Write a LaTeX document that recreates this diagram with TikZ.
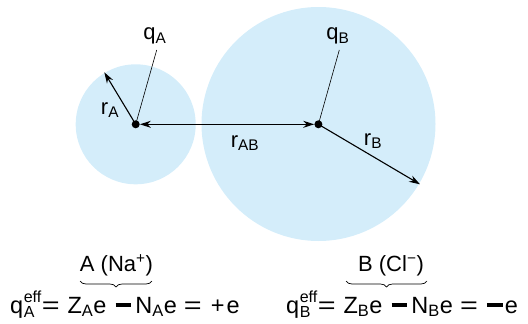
\documentclass[tikz,border=0pt]{standalone}
\usepackage{fontspec}
\usepackage{graphicx}
\setmainfont{Liberation Sans}
\usetikzlibrary{arrows.meta,decorations.pathreplacing}
\definecolor{ionblue}{RGB}{212,237,250}
\newcommand{\effq}[1]{q\kern0.5pt\raisebox{-4.5pt}{\fontsize{16}{12.5}\selectfont\begin{tabular}[b]{@{}l@{}}eff\\#1\end{tabular}}}
\newcommand{\bmin}{\rule[0.27em]{0.68em}{0.14em}}
\newcommand{\weq}{\scalebox{1.3}[1]{=}}
\begin{document}
\begin{tikzpicture}[x=1pt,y=-1pt,
  ion/.style={circle,fill=ionblue,inner sep=0,minimum size=#1},
  dotn/.style={circle,fill=black,inner sep=0,minimum size=8pt},
  lbl/.style={font=\fontsize{22}{24}\selectfont,inner sep=0},
  eqn/.style={font=\fontsize{23.5}{26}\selectfont,inner sep=0,anchor=base},
  lab/.style={font=\fontsize{22}{24}\selectfont,inner sep=0,anchor=base},
  arr/.style={line width=1.1pt,-{Stealth[length=11pt,width=7pt]}},
  leader/.style={line width=0.6pt},
  brc/.style={line width=0.7pt,decorate,decoration={brace,amplitude=6pt}}
]
\useasboundingbox (0,0) rectangle (528,324);
\node[ion=120pt] (cA) at (135.7,124.3) {};
\node[ion=234pt] (cB) at (318.5,124) {};
\node[dotn] (A) at (135.7,124.3) {};
\node[dotn] (B) at (318.4,124.3) {};
\coordinate (rAend) at (104.3,72.3);
\coordinate (rBend) at (420,184.3);
\coordinate (qAend) at (156.7,50);
\coordinate (qBend) at (339.3,50);
\draw[arr] (A.center) -- (rAend);
\draw[arr] (B.center) -- (rBend);
\draw[leader] (A.center) -- (qAend);
\draw[leader] (B.center) -- (qBend);
\draw[line width=1.1pt,{Stealth[length=11pt,width=7pt]}-{Stealth[length=11pt,width=7pt]}] (A) -- (B);
\node[lbl] (qA) at (155,36) {q\textsubscript{A}};
\node[lbl] (qB) at (338,36) {q\textsubscript{B}};
\node[lbl] (rA) at (110,110) {r\textsubscript{A}};
\node[lbl] (rB) at (373,141) {r\textsubscript{B}};
\node[lbl] (rAB) at (245,143) {r\textsubscript{AB}};
\node[eqn,anchor=base west] (eqA) at (10,313) {\effq{A}\hspace{0.5pt}\weq\hspace{8pt}Z\textsubscript{A}e\hspace{9pt}\bmin\hspace{4pt}N\textsubscript{A}e\hspace{7pt}\weq\hspace{9pt}+\hspace{2pt}e};
\node[eqn,anchor=base west] (eqB) at (286,313) {\effq{B}\hspace{0.5pt}\weq\hspace{8pt}Z\textsubscript{B}e\hspace{9pt}\bmin\hspace{4pt}N\textsubscript{B}e\hspace{7pt}\weq\hspace{9pt}\bmin\hspace{2pt}e};
\node[lab] (labA) at (116.5,271) {A (Na\textsuperscript{+})};
\node[lab] (labB) at (391,271) {B (Cl\textsuperscript{−})};
\coordinate (bA1) at (152,281);
\coordinate (bA2) at (80,281);
\coordinate (bB1) at (427,281);
\coordinate (bB2) at (346,281);
\draw[brc] (bA1) -- (bA2);
\draw[brc] (bB1) -- (bB2);
\end{tikzpicture}
\end{document}
